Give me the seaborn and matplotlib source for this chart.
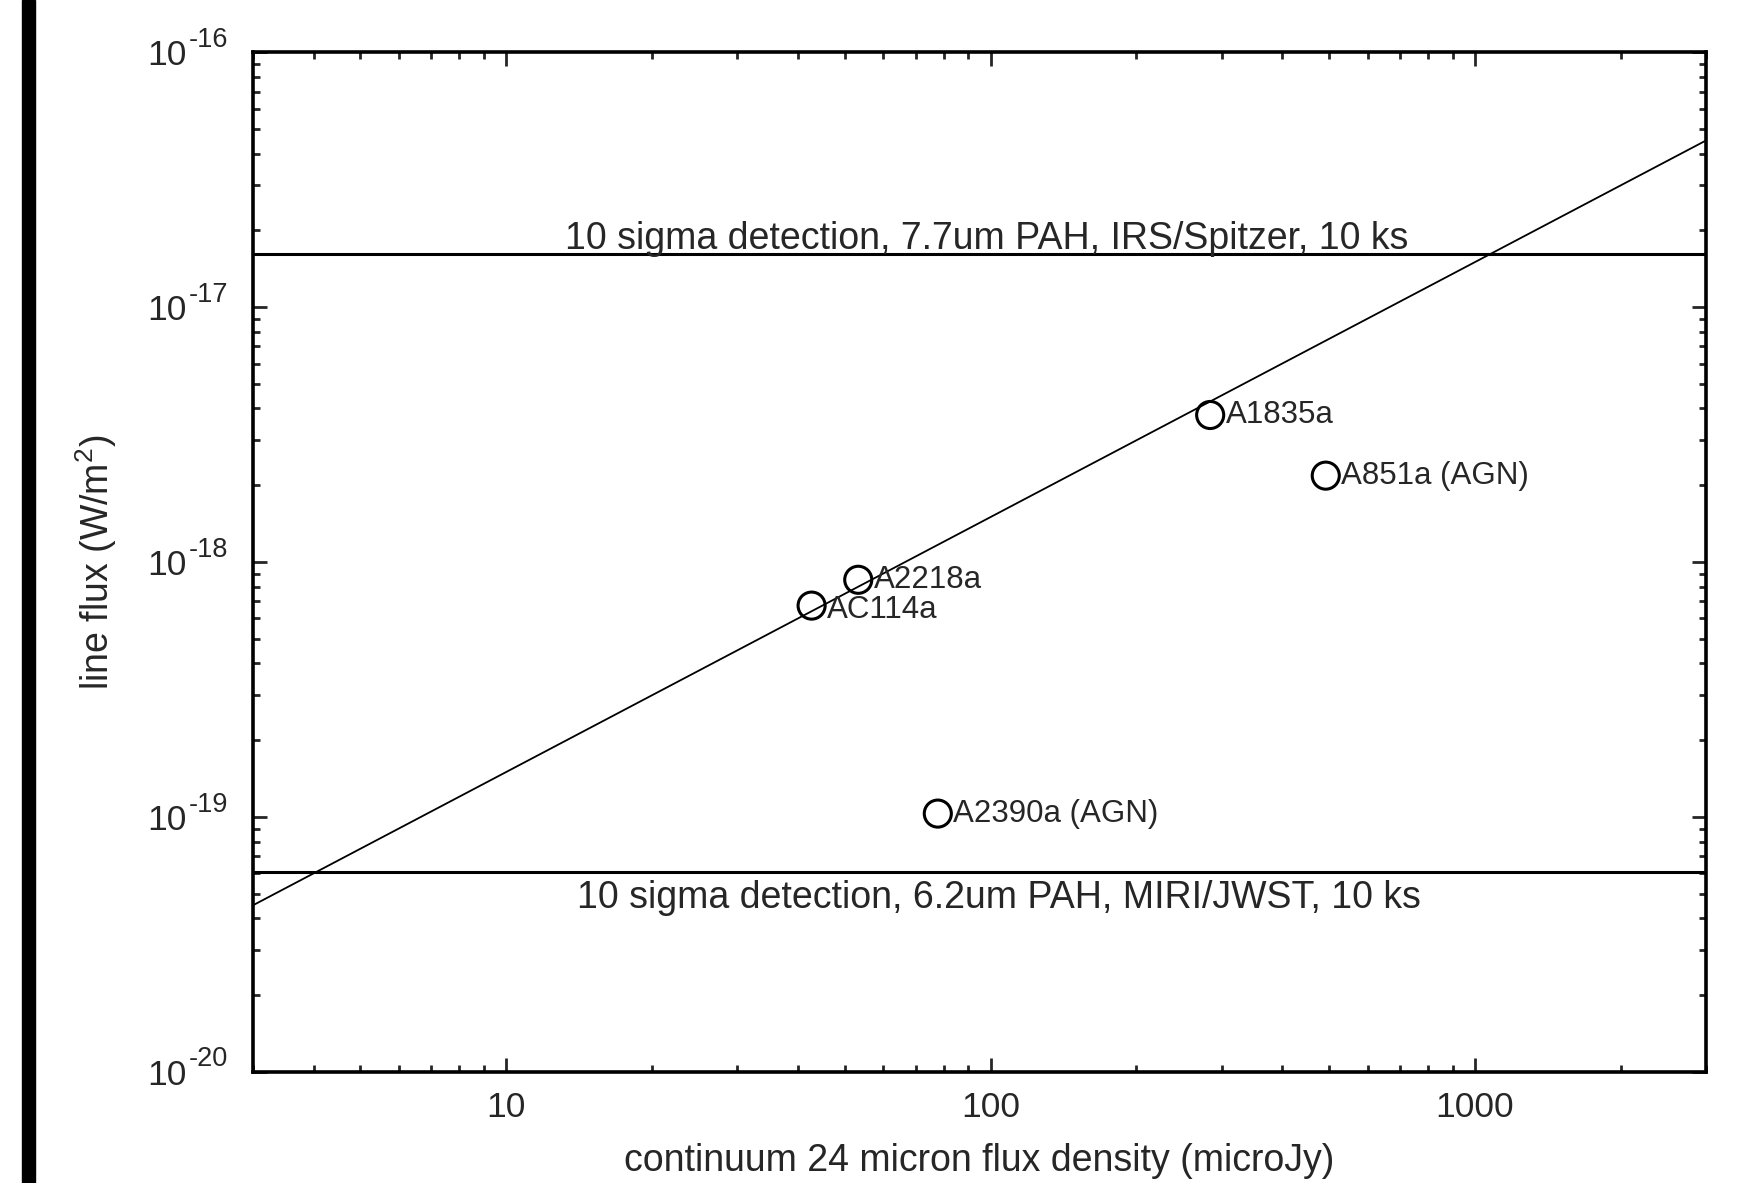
import matplotlib
matplotlib.use('Agg')
import matplotlib.pyplot as plt
from matplotlib.patches import Rectangle
from matplotlib.ticker import LogLocator, NullFormatter, FixedLocator, FixedFormatter
import seaborn as sns
import numpy as np
import pandas as pd

# --- data ---
source_names = ['A1835a', 'A851a (AGN)', 'A2218a', 'AC114a', 'A2390a (AGN)']
flux_24um = [284, 492, 53.3, 42.7, 77.8]              # microJy
line_flux = [3.77e-18, 2.18e-18, 8.51e-19, 6.74e-19, 1.03e-19]  # W/m^2

# linear relation line flux = k * continuum
fit_x = [3, 3000]
fit_k = 1.5e-20

# detection limits
limit_values = [1.62e-17, 6.1e-20]
limit_labels = ['10 sigma detection, 7.7um PAH, IRS/Spitzer, 10 ks',
                '10 sigma detection, 6.2um PAH, MIRI/JWST, 10 ks']

# axis ticks
x_ticks = [10, 100, 1000]
x_ticklabels = ['10', '100', '1000']
y_exponents = [-20, -19, -18, -17, -16]

sns.set_style('ticks')
plt.rcParams['font.family'] = ['Liberation Sans', 'DejaVu Sans']
plt.rcParams['mathtext.default'] = 'regular'

fig = plt.figure(figsize=(17.57, 11.83), dpi=100)
ax = fig.add_axes([0.144, 0.094, 0.827, 0.862])

df = pd.DataFrame({'x': flux_24um, 'y': line_flux, 'name': source_names})
fit_df = pd.DataFrame({'x': fit_x, 'y': [fit_k * v for v in fit_x]})

ax.set_xscale('log')
ax.set_yscale('log')

sns.lineplot(data=fit_df, x='x', y='y', ax=ax, color='black', linewidth=1.3)
for val in limit_values:
    ax.axhline(val, color='black', linewidth=2.2)

sns.scatterplot(data=df, x='x', y='y', ax=ax, marker='o', s=380,
                facecolor='none', edgecolor='black', linewidth=2.2, zorder=5)

for _, row in df.iterrows():
    dy = -3 if row['name'] == 'AC114a' else 0
    ax.annotate(row['name'], (row['x'], row['y']), xytext=(11, dy),
                textcoords='offset points', ha='left', va='center', fontsize=22.5)

ax.annotate(limit_labels[0], (0.5, limit_values[0]), xycoords=('axes fraction', 'data'),
            xytext=(5, 3), textcoords='offset points', ha='center', va='baseline', fontsize=27)
ax.annotate(limit_labels[1], (0.5, limit_values[1]), xycoords=('axes fraction', 'data'),
            xytext=(14, -6), textcoords='offset points', ha='center', va='top', fontsize=27)

ax.set_xlim(3, 3000)
ax.set_ylim(10.0 ** y_exponents[0], 10.0 ** y_exponents[-1])

ax.xaxis.set_major_locator(FixedLocator(x_ticks))
ax.xaxis.set_major_formatter(FixedFormatter(x_ticklabels))
ax.xaxis.set_minor_locator(LogLocator(base=10, subs=np.arange(2, 10), numticks=20))
ax.xaxis.set_minor_formatter(NullFormatter())
y_ticks = [10.0 ** e for e in y_exponents]
ax.yaxis.set_major_locator(FixedLocator(y_ticks))
ax.yaxis.set_major_formatter(FixedFormatter(['10'] * len(y_ticks)))
ax.yaxis.set_minor_locator(LogLocator(base=10, subs=np.arange(2, 10), numticks=20))
ax.yaxis.set_minor_formatter(NullFormatter())

# exponents drawn as plain superscript text, gnuplot style (hyphen, not minus)
for e in y_exponents:
    ax.annotate(str(e), (0, 10.0 ** e), xycoords=('axes fraction', 'data'),
                xytext=(-46.5, -0.5), textcoords='offset points',
                ha='left', va='bottom', fontsize=19.5, annotation_clip=False)

ax.tick_params(which='both', direction='in', top=True, right=True, width=2.0, labelsize=25.5)
ax.tick_params(which='major', length=10)
ax.tick_params(which='minor', length=5)
ax.tick_params(axis='x', which='major', pad=14)
ax.tick_params(axis='y', which='major', pad=48)
for sp in ax.spines.values():
    sp.set_linewidth(2.6)
    sp.set_color('black')

ax.set_xlabel('continuum 24 micron flux density (microJy)', fontsize=27)
ax.set_ylabel('line flux (W/m$^2$)', fontsize=27)
ax.xaxis.set_label_coords(0.5, -0.07)
ax.yaxis.set_label_coords(-0.092, 0.5)

# black strip at the left edge of the page
fig.patches.append(Rectangle((22 / 1757, 0), 13 / 1757, 1, transform=fig.transFigure,
                             color='black', zorder=10))

fig.savefig('out.png', dpi=100)
